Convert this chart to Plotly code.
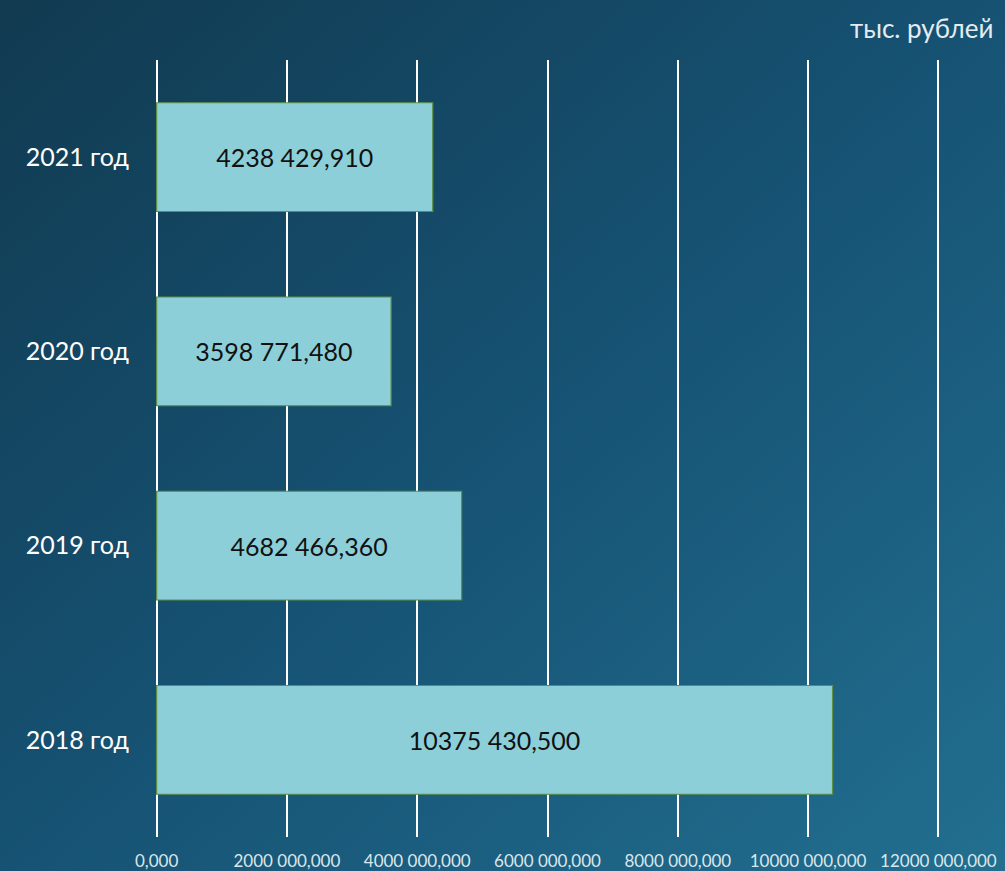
import plotly.graph_objects as go

categories = ["2018 год", "2019 год", "2020 год", "2021 год"]
values = [10375430.500, 4682466.360, 3598771.480, 4238429.910]
tick_values = [0, 2000000, 4000000, 6000000, 8000000, 10000000, 12000000]
unit_label = "тыс. рублей"


def fmt(v):
    s = f"{v:.3f}"
    ip, fp = s.split(".")
    if len(ip) > 3:
        ip = ip[:-3] + " " + ip[-3:]
    return ip + "," + fp


bar_text = [fmt(v) for v in values]
tick_text = [fmt(v) for v in tick_values]

svg = ("data:image/svg+xml;utf8,"
       "<svg xmlns='http://www.w3.org/2000/svg' width='1005' height='871'>"
       "<defs><linearGradient id='g' x1='0' y1='0' x2='1' y2='1'>"
       "<stop offset='0' stop-color='%23113a50'/>"
       "<stop offset='0.5' stop-color='%23165273'/>"
       "<stop offset='1' stop-color='%23226f90'/>"
       "</linearGradient></defs>"
       "<rect width='1005' height='871' fill='url(%23g)'/></svg>")

FONT = "Lato, 'Noto Sans', sans-serif"
L, R, T, B = 154, 64, 60, 34
PW, PH = 1005 - L - R, 871 - T - B

fig = go.Figure(go.Bar(
    y=categories, x=values, orientation="h",
    text=bar_text, textposition="inside", insidetextanchor="middle",
    textfont=dict(family=FONT, size=25, color="#111111"),
    marker=dict(color="#8ccfd9", line=dict(color="#5e8f45", width=1.2)),
    hoverinfo="skip",
))

fig.update_layout(
    width=1005, height=871,
    margin=dict(l=L, r=R, t=T, b=B),
    paper_bgcolor="#164a64", plot_bgcolor="rgba(0,0,0,0)",
    bargap=0.44, showlegend=False,
    images=[dict(source=svg, xref="paper", yref="paper", x=-L / PW, y=1 + T / PH,
                 sizex=1005 / PW, sizey=871 / PH, sizing="stretch",
                 xanchor="left", yanchor="top", layer="below")],
    annotations=[dict(text=unit_label, xref="paper", yref="paper",
                      x=(995 - L) / PW, y=1 + 32 / PH, xanchor="right", yanchor="middle",
                      showarrow=False,
                      font=dict(family=FONT, size=26, color="#e3ecf1"))],
)
fig.update_xaxes(range=[-40000, 12040000], tickvals=tick_values, ticktext=tick_text,
                 showgrid=True, gridcolor="#ffffff", gridwidth=2,
                 zeroline=False, showline=False, ticks="", automargin=False,
                 ticklabelstandoff=12,
                 tickfont=dict(family=FONT, size=17, color="#dbe6ec"))
fig.update_yaxes(showgrid=False, zeroline=False, showline=False, ticks="", automargin=False,
                 ticklabelstandoff=24,
                 tickfont=dict(family=FONT, size=25, color="#ffffff"))

fig.write_html("out.html", config={"displayModeBar": False},
               post_script="document.body.style.margin='0';")
